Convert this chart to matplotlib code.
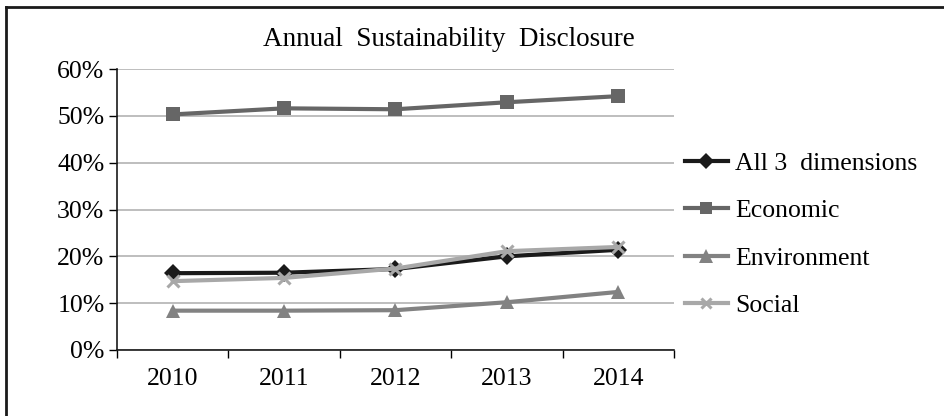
import matplotlib
matplotlib.use("Agg")
import matplotlib.pyplot as plt
from matplotlib.lines import Line2D

years = ["2010", "2011", "2012", "2013", "2014"]
all_three = [16.4, 16.5, 17.3, 20.0, 21.4]
economic = [50.3, 51.6, 51.4, 52.9, 54.2]
environment = [8.4, 8.4, 8.5, 10.2, 12.4]
social = [14.7, 15.4, 17.4, 21.1, 22.0]
y_ticks = [0, 10, 20, 30, 40, 50, 60]

plt.rcParams["font.family"] = ["Liberation Serif", "DejaVu Serif"]
FS = 18.5

fig = plt.figure(figsize=(9.45, 4.16), dpi=100)
ax = fig.add_axes([117 / 945, 1 - 350 / 416, (674 - 117) / 945, (350 - 69) / 416])

x = list(range(len(years)))
series = [
    ("All 3  dimensions", all_three, "#1a1a1a", "D", 9),
    ("Economic", economic, "#666666", "s", 9.5),
    ("Environment", environment, "#828282", "^", 10.5),
    ("Social", social, "#a8a8a8", "x", 8.5),
]
for label, vals, col, mk, ms in series:
    kw = dict(markeredgewidth=2.2) if mk == "x" else dict(markeredgewidth=0)
    ax.plot(x, vals, color=col, lw=3, marker=mk, markersize=ms,
            markerfacecolor=col, markeredgecolor=col, label=label,
            solid_joinstyle="round", **kw)

ax.set_xlim(-0.5, len(years) - 0.5)
ax.set_ylim(0, 60)
ax.set_yticks(y_ticks)
ax.set_yticklabels([f"{v}%" for v in y_ticks], fontsize=FS)
ax.set_xticks(x)
ax.set_xticklabels(years, fontsize=FS)
ax.set_xticks([i - 0.5 for i in range(len(years) + 1)], minor=True)
ax.tick_params(axis="x", which="major", length=0, pad=13)
ax.tick_params(axis="x", which="minor", length=6, width=1, direction="out")
ax.tick_params(axis="y", length=6, width=1, direction="out", pad=3)
ax.yaxis.grid(True, color="#b3b3b3", lw=1.2)
ax.set_axisbelow(True)
for s in ("top", "right"):
    ax.spines[s].set_visible(False)
for s in ("left", "bottom"):
    ax.spines[s].set_color("#1a1a1a")
    ax.spines[s].set_linewidth(1.2)

handles = [Line2D([0], [0], color=c, lw=3, marker=m, markersize=ms * 0.9,
                  markerfacecolor=c, markeredgecolor=c,
                  markeredgewidth=(2.2 if m == "x" else 0))
           for _, _, c, m, ms in series]
fig.legend(handles, [s[0] for s in series], loc="upper left",
           bbox_to_anchor=(675 / 945, 1 - 142 / 416), frameon=False,
           fontsize=FS, handlelength=1.65, handletextpad=0.3,
           labelspacing=0.94, borderaxespad=0)

fig.text(449 / 945, 1 - 39 / 416, "Annual  Sustainability  Disclosure",
         ha="center", va="center", fontsize=19.5)

# frame edges along the top and left of the figure
fig.add_artist(Line2D([6 / 945, 6 / 945], [0, 1 - 7 / 416],
                      transform=fig.transFigure, color="#1a1a1a", lw=2))
fig.add_artist(Line2D([6 / 945, 1], [1 - 7 / 416, 1 - 7 / 416],
                      transform=fig.transFigure, color="#1a1a1a", lw=2))

fig.savefig("out.png", dpi=100)
